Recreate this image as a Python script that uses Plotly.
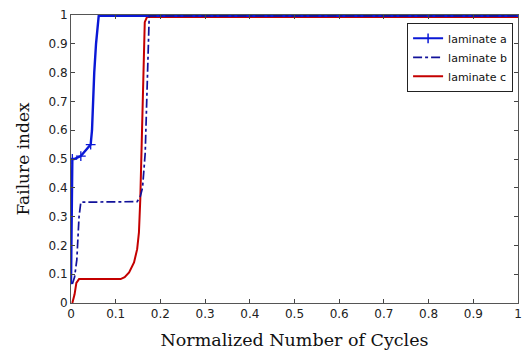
import plotly.graph_objects as go

# laminate a (solid, + markers)
a_x = [0.0, 0.001, 0.003, 0.007, 0.022, 0.044, 0.047, 0.052, 0.056, 0.062, 1.0]
a_y = [0.065, 0.30, 0.50, 0.50, 0.51, 0.55, 0.60, 0.80, 0.90, 0.997, 0.997]
a_mark_x = [0.003, 0.022, 0.044]
a_mark_y = [0.50, 0.51, 0.55]

# laminate b (dash-dot)
b_x = [0.003, 0.008, 0.013, 0.016, 0.018, 0.022, 0.148, 0.155, 0.160, 0.166, 0.170, 0.173, 0.175, 1.0]
b_y = [0.066, 0.09, 0.15, 0.24, 0.30, 0.35, 0.352, 0.37, 0.40, 0.52, 0.70, 0.88, 0.997, 0.997]

# laminate c (solid red)
c_x = [0.003, 0.008, 0.012, 0.018, 0.111, 0.120, 0.130, 0.141, 0.148, 0.152, 0.155, 0.159, 0.163, 0.165, 0.170, 1.0]
c_y = [0.0, 0.03, 0.07, 0.083, 0.083, 0.09, 0.106, 0.141, 0.187, 0.245, 0.36, 0.59, 0.88, 0.975, 0.993, 0.993]

x_ticks = [0, 0.1, 0.2, 0.3, 0.4, 0.5, 0.6, 0.7, 0.8, 0.9, 1]
y_ticks = [0, 0.1, 0.2, 0.3, 0.4, 0.5, 0.6, 0.7, 0.8, 0.9, 1]
tick_text = ["0", "0.1", "0.2", "0.3", "0.4", "0.5", "0.6", "0.7", "0.8", "0.9", "1"]

col_a = "#0a18d6"
col_b = "#12129a"
col_c = "#c40000"

fig = go.Figure()
# legend entries
fig.add_trace(go.Scatter(x=[None], y=[None], mode="lines+markers", name="laminate a",
                         line=dict(color=col_a, width=2),
                         marker=dict(symbol="line-ns", size=7, line=dict(color=col_a, width=1.5)),
                         legendrank=1))
fig.add_trace(go.Scatter(x=c_x, y=c_y, mode="lines", name="laminate c",
                         line=dict(color=col_c, width=2), legendrank=3))
fig.add_trace(go.Scatter(x=a_x, y=a_y, mode="lines", name="laminate a", showlegend=False,
                         line=dict(color=col_a, width=2.4)))
fig.add_trace(go.Scatter(x=a_mark_x, y=a_mark_y, mode="markers", showlegend=False,
                         marker=dict(symbol="cross-thin", size=7, line=dict(color=col_a, width=1.3))))
fig.add_trace(go.Scatter(x=b_x, y=b_y, mode="lines", name="laminate b",
                         line=dict(color=col_b, width=1.7, dash="dashdot"), legendrank=2))

axis_common = dict(
    range=[0, 1], tickmode="array", ticks="inside", ticklen=4, tickcolor="#444",
    showline=True, linecolor="#555", linewidth=1, mirror="ticks", showgrid=False,
    zeroline=False, tickfont=dict(family="DejaVu Sans", size=12, color="#222"),
)

fig.update_layout(
    width=526, height=351,
    margin=dict(l=71, r=4, t=15, b=47),
    plot_bgcolor="white", paper_bgcolor="white",
    xaxis=dict(tickvals=x_ticks, ticktext=tick_text,
               title=dict(text="Normalized Number of Cycles",
                          font=dict(family="DejaVu Serif", size=17.5, color="#111"), standoff=13),
               **axis_common),
    yaxis=dict(tickvals=y_ticks, ticktext=tick_text,
               title=dict(text="Failure index",
                          font=dict(family="DejaVu Serif", size=17, color="#111"), standoff=14),
               **axis_common),
    legend=dict(x=0.989, y=0.973, xanchor="right", yanchor="top",
                bgcolor="white", bordercolor="#222", borderwidth=1,
                font=dict(family="DejaVu Sans", size=11, color="#111"),
                tracegroupgap=0, itemwidth=30),
    showlegend=True,
)

fig.write_html("out.html", config={"displayModeBar": False},
               post_script="document.body.style.margin='0px';")
